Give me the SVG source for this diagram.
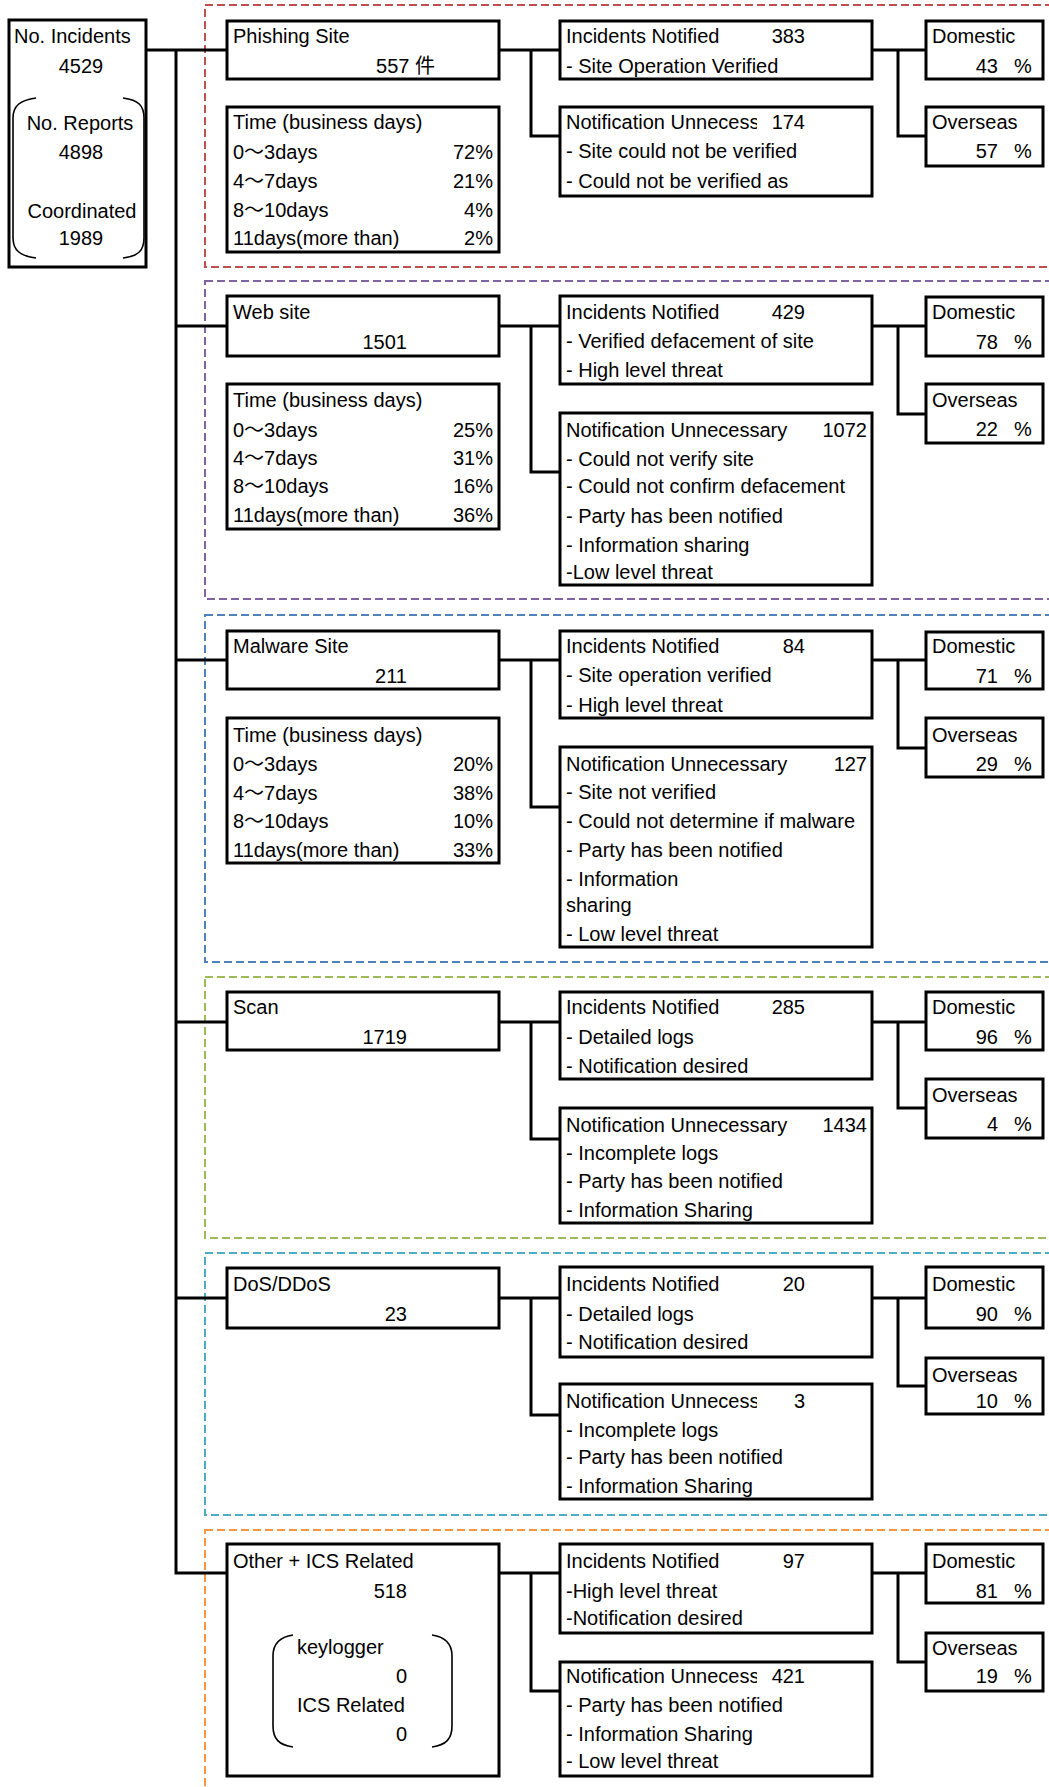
<svg xmlns="http://www.w3.org/2000/svg" width="1049" height="1787" viewBox="0 0 1049 1787">
<style>
text{font-family:"Liberation Sans","Noto Sans CJK JP",Arial,sans-serif;font-size:20px;fill:#000}
.e{text-anchor:end}
.m{text-anchor:middle}
.box{fill:#fff;stroke:#000;stroke-width:3}
.frame{fill:none;stroke-width:2;stroke-dasharray:8 4}
.conn{fill:none;stroke:#000;stroke-width:3}
.br{fill:none;stroke:#000;stroke-width:1.6}
</style>
<defs>
<clipPath id="clipNU" clipPathUnits="userSpaceOnUse"><rect x="555" y="0" width="202" height="1787"/></clipPath>
</defs>
<g id="frames">
<rect class="frame" x="205" y="5" width="860" height="262" stroke="#C0504D"/>
<rect class="frame" x="205" y="281" width="860" height="318" stroke="#8064A2"/>
<rect class="frame" x="205" y="615" width="860" height="347" stroke="#4F81BD"/>
<rect class="frame" x="205" y="977" width="860" height="261" stroke="#9BBB59"/>
<rect class="frame" x="205" y="1253" width="860" height="262" stroke="#4BACC6"/>
<rect class="frame" x="205" y="1530" width="860" height="300" stroke="#F79646"/>
</g>
<g id="connectors">
<path class="conn" d="M146,50 H227 M176,50 V1573 H227 M176,326 H227 M176,660 H227 M176,1022 H227 M176,1298 H227"/>
<path class="conn" d="M499,50 H560 M531,50 V136 H560 M872,50 H926 M898,50 V136 H926"/>
<path class="conn" d="M499,326 H560 M531,326 V472 H560 M872,326 H926 M898,326 V414 H926"/>
<path class="conn" d="M499,660 H560 M531,660 V807 H560 M872,660 H926 M898,660 V748 H926"/>
<path class="conn" d="M499,1022 H560 M531,1022 V1139 H560 M872,1022 H926 M898,1022 V1108 H926"/>
<path class="conn" d="M499,1298 H560 M531,1298 V1415 H560 M872,1298 H926 M898,1298 V1386 H926"/>
<path class="conn" d="M499,1573 H560 M531,1573 V1691 H560 M872,1573 H926 M898,1573 V1662 H926"/>
</g>
<g id="root">
<rect class="box" x="9" y="20" width="137" height="247"/>
<path class="br" d="M36,98 C20,100 13,106 13,118 V238 C13,250 20,256 36,258 M123,98 C139,100 144,106 144,118 V238 C144,250 139,256 123,258"/>
<text x="14" y="43">No. Incidents</text>
<text class="m" x="81" y="73">4529</text>
<text class="m" x="80" y="130">No. Reports</text>
<text class="m" x="81" y="159">4898</text>
<text class="m" x="82" y="218">Coordinated</text>
<text class="m" x="81" y="245">1989</text>
</g>
<!-- Phishing -->
<g id="phishing">
<rect class="box" x="227" y="21" width="272" height="58"/>
<text x="233" y="43">Phishing Site</text>
<text class="e" x="435" y="73">557 件</text>
</g>
<g id="phishing-time">
<rect class="box" x="227" y="107" width="272" height="145"/>
<text x="233" y="129">Time (business days)</text>
<text x="233" y="159">0～3days</text><text class="e" x="493" y="159">72%</text>
<text x="233" y="188">4～7days</text><text class="e" x="493" y="188">21%</text>
<text x="233" y="217">8～10days</text><text class="e" x="493" y="217">4%</text>
<text x="233" y="245">11days(more than)</text><text class="e" x="493" y="245">2%</text>
</g>
<g id="phishing-notified">
<rect class="box" x="560" y="21" width="312" height="58"/>
<text x="566" y="43">Incidents Notified</text><text class="e" x="805" y="43">383</text>
<text x="566" y="73">- Site Operation Verified</text>
</g>
<g id="phishing-unnecessary">
<rect class="box" x="560" y="107" width="312" height="89"/>
<text x="566" y="129" clip-path="url(#clipNU)">Notification Unnecess</text><text class="e" x="805" y="129">174</text>
<text x="566" y="158">- Site could not be verified</text>
<text x="566" y="188">- Could not be verified as</text>
</g>
<g id="phishing-domestic">
<rect class="box" x="926" y="21" width="117" height="58"/>
<text x="932" y="43">Domestic</text>
<text><tspan class="e" x="998" y="73">43</tspan><tspan x="1014" y="73">%</tspan></text>
</g>
<g id="phishing-overseas">
<rect class="box" x="926" y="107" width="117" height="59"/>
<text x="932" y="129">Overseas</text>
<text><tspan class="e" x="998" y="158">57</tspan><tspan x="1014" y="158">%</tspan></text>
</g>
<!-- Web site -->
<g id="website">
<rect class="box" x="227" y="296" width="272" height="60"/>
<text x="233" y="319">Web site</text>
<text class="e" x="407" y="349">1501</text>
</g>
<g id="website-time">
<rect class="box" x="227" y="384" width="272" height="145"/>
<text x="233" y="407">Time (business days)</text>
<text x="233" y="437">0～3days</text><text class="e" x="493" y="437">25%</text>
<text x="233" y="465">4～7days</text><text class="e" x="493" y="465">31%</text>
<text x="233" y="493">8～10days</text><text class="e" x="493" y="493">16%</text>
<text x="233" y="522">11days(more than)</text><text class="e" x="493" y="522">36%</text>
</g>
<g id="website-notified">
<rect class="box" x="560" y="296" width="312" height="88"/>
<text x="566" y="319">Incidents Notified</text><text class="e" x="805" y="319">429</text>
<text x="566" y="348">- Verified defacement of site</text>
<text x="566" y="377">- High level threat</text>
</g>
<g id="website-unnecessary">
<rect class="box" x="560" y="413" width="312" height="172"/>
<text x="566" y="437">Notification Unnecessary</text><text class="e" x="867" y="437">1072</text>
<text x="566" y="466">- Could not verify site</text>
<text x="566" y="493">- Could not confirm defacement</text>
<text x="566" y="523">- Party has been notified</text>
<text x="566" y="552">- Information sharing</text>
<text x="566" y="579">-Low level threat</text>
</g>
<g id="website-domestic">
<rect class="box" x="926" y="297" width="117" height="59"/>
<text x="932" y="319">Domestic</text>
<text><tspan class="e" x="998" y="349">78</tspan><tspan x="1014" y="349">%</tspan></text>
</g>
<g id="website-overseas">
<rect class="box" x="926" y="384" width="117" height="59"/>
<text x="932" y="407">Overseas</text>
<text><tspan class="e" x="998" y="436">22</tspan><tspan x="1014" y="436">%</tspan></text>
</g>
<!-- Malware -->
<g id="malware">
<rect class="box" x="227" y="631" width="272" height="58"/>
<text x="233" y="653">Malware Site</text>
<text class="e" x="407" y="683">211</text>
</g>
<g id="malware-time">
<rect class="box" x="227" y="718" width="272" height="145"/>
<text x="233" y="742">Time (business days)</text>
<text x="233" y="771">0～3days</text><text class="e" x="493" y="771">20%</text>
<text x="233" y="800">4～7days</text><text class="e" x="493" y="800">38%</text>
<text x="233" y="828">8～10days</text><text class="e" x="493" y="828">10%</text>
<text x="233" y="857">11days(more than)</text><text class="e" x="493" y="857">33%</text>
</g>
<g id="malware-notified">
<rect class="box" x="560" y="631" width="312" height="87"/>
<text x="566" y="653">Incidents Notified</text><text class="e" x="805" y="653">84</text>
<text x="566" y="682">- Site operation verified</text>
<text x="566" y="712">- High level threat</text>
</g>
<g id="malware-unnecessary">
<rect class="box" x="560" y="747" width="312" height="200"/>
<text x="566" y="771">Notification Unnecessary</text><text class="e" x="867" y="771">127</text>
<text x="566" y="799">- Site not verified</text>
<text x="566" y="828">- Could not determine if malware</text>
<text x="566" y="857">- Party has been notified</text>
<text x="566" y="886">- Information</text>
<text x="566" y="912">sharing</text>
<text x="566" y="941">- Low level threat</text>
</g>
<g id="malware-domestic">
<rect class="box" x="926" y="632" width="117" height="57"/>
<text x="932" y="653">Domestic</text>
<text><tspan class="e" x="998" y="683">71</tspan><tspan x="1014" y="683">%</tspan></text>
</g>
<g id="malware-overseas">
<rect class="box" x="926" y="718" width="117" height="59"/>
<text x="932" y="742">Overseas</text>
<text><tspan class="e" x="998" y="771">29</tspan><tspan x="1014" y="771">%</tspan></text>
</g>
<!-- Scan -->
<g id="scan">
<rect class="box" x="227" y="992" width="272" height="58"/>
<text x="233" y="1014">Scan</text>
<text class="e" x="407" y="1044">1719</text>
</g>
<g id="scan-notified">
<rect class="box" x="560" y="992" width="312" height="87"/>
<text x="566" y="1014">Incidents Notified</text><text class="e" x="805" y="1014">285</text>
<text x="566" y="1044">- Detailed logs</text>
<text x="566" y="1073">- Notification desired</text>
</g>
<g id="scan-unnecessary">
<rect class="box" x="560" y="1108" width="312" height="115"/>
<text x="566" y="1132">Notification Unnecessary</text><text class="e" x="867" y="1132">1434</text>
<text x="566" y="1160">- Incomplete logs</text>
<text x="566" y="1188">- Party has been notified</text>
<text x="566" y="1217">- Information Sharing</text>
</g>
<g id="scan-domestic">
<rect class="box" x="926" y="992" width="117" height="58"/>
<text x="932" y="1014">Domestic</text>
<text><tspan class="e" x="998" y="1044">96</tspan><tspan x="1014" y="1044">%</tspan></text>
</g>
<g id="scan-overseas">
<rect class="box" x="926" y="1079" width="117" height="59"/>
<text x="932" y="1102">Overseas</text>
<text><tspan class="e" x="998" y="1131">4</tspan><tspan x="1014" y="1131">%</tspan></text>
</g>
<!-- DoS -->
<g id="dos">
<rect class="box" x="227" y="1268" width="272" height="60"/>
<text x="233" y="1291">DoS/DDoS</text>
<text class="e" x="407" y="1321">23</text>
</g>
<g id="dos-notified">
<rect class="box" x="560" y="1267" width="312" height="90"/>
<text x="566" y="1291">Incidents Notified</text><text class="e" x="805" y="1291">20</text>
<text x="566" y="1321">- Detailed logs</text>
<text x="566" y="1349">- Notification desired</text>
</g>
<g id="dos-unnecessary">
<rect class="box" x="560" y="1384" width="312" height="115"/>
<text x="566" y="1408" clip-path="url(#clipNU)">Notification Unnecess</text><text class="e" x="805" y="1408">3</text>
<text x="566" y="1437">- Incomplete logs</text>
<text x="566" y="1464">- Party has been notified</text>
<text x="566" y="1493">- Information Sharing</text>
</g>
<g id="dos-domestic">
<rect class="box" x="926" y="1267" width="117" height="61"/>
<text x="932" y="1291">Domestic</text>
<text><tspan class="e" x="998" y="1321">90</tspan><tspan x="1014" y="1321">%</tspan></text>
</g>
<g id="dos-overseas">
<rect class="box" x="926" y="1358" width="117" height="56"/>
<text x="932" y="1382">Overseas</text>
<text><tspan class="e" x="998" y="1408">10</tspan><tspan x="1014" y="1408">%</tspan></text>
</g>
<!-- Other -->
<g id="other">
<rect class="box" x="227" y="1544" width="272" height="232"/>
<text x="233" y="1568">Other + ICS Related</text>
<text class="e" x="407" y="1598">518</text>
<path class="br" d="M293,1635 C279,1637 273,1644 273,1656 V1726 C273,1739 279,1745 293,1747 M432,1635 C446,1637 452,1644 452,1656 V1726 C452,1739 446,1745 432,1747"/>
<text x="297" y="1654">keylogger</text>
<text class="e" x="407" y="1683">0</text>
<text x="297" y="1712">ICS Related</text>
<text class="e" x="407" y="1741">0</text>
</g>
<g id="other-notified">
<rect class="box" x="560" y="1544" width="312" height="89"/>
<text x="566" y="1568">Incidents Notified</text><text class="e" x="805" y="1568">97</text>
<text x="566" y="1598">-High level threat</text>
<text x="566" y="1625">-Notification desired</text>
</g>
<g id="other-unnecessary">
<rect class="box" x="560" y="1662" width="312" height="114"/>
<text x="566" y="1683" clip-path="url(#clipNU)">Notification Unnecess</text><text class="e" x="805" y="1683">421</text>
<text x="566" y="1712">- Party has been notified</text>
<text x="566" y="1741">- Information Sharing</text>
<text x="566" y="1768">- Low level threat</text>
</g>
<g id="other-domestic">
<rect class="box" x="926" y="1544" width="117" height="59"/>
<text x="932" y="1568">Domestic</text>
<text><tspan class="e" x="998" y="1598">81</tspan><tspan x="1014" y="1598">%</tspan></text>
</g>
<g id="other-overseas">
<rect class="box" x="926" y="1633" width="117" height="58"/>
<text x="932" y="1655">Overseas</text>
<text><tspan class="e" x="998" y="1683">19</tspan><tspan x="1014" y="1683">%</tspan></text>
</g>
</svg>
